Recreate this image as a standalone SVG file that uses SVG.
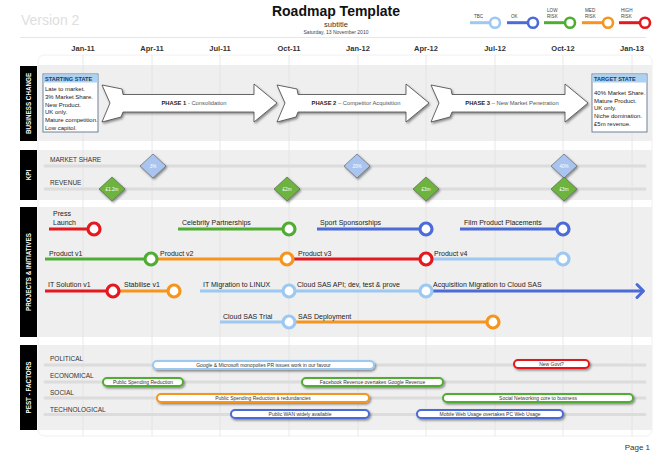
<svg xmlns="http://www.w3.org/2000/svg" width="662" height="455" viewBox="0 0 662 455">
<defs>
<filter id="sh" x="-20%" y="-40%" width="150%" height="200%"><feDropShadow dx="1.2" dy="1.5" stdDeviation="0.9" flood-color="#000" flood-opacity="0.45"/></filter>
<style>
text{font-family:"Liberation Sans",Arial,sans-serif}
.band{fill:#efefef}
.lab{fill:#000}
.labt{fill:#fff;font-weight:bold;font-size:6.3px;text-anchor:middle}
.mon{font-size:7.5px;font-weight:bold;fill:#333;text-anchor:middle}
.grid{stroke:#e2e2e2;stroke-width:0.8}
.trk{stroke:#dcdcdc;stroke-width:3;stroke-linecap:round}
.rowlab{font-size:6.5px;fill:#333}
.it{font-size:7px;fill:#222}
.ln{stroke-width:3;fill:none}
.ms{fill:#fff;stroke-width:3.2}
.lg{fill:#fff;stroke-width:2.6}
.lgt{font-size:4.6px;fill:#444}
.red{stroke:#e3191f}
.grn{stroke:#4fad33}
.blu{stroke:#4a6bd8}
.lbl{stroke:#9cc8f2}
.org{stroke:#f7941d}
.arrow{fill:#fff;stroke:#444;stroke-width:0.8;filter:url(#sh)}
.pt{font-size:5.8px;fill:#555;text-anchor:middle}
.pt tspan.b{font-weight:bold;fill:#222}
.box{fill:#fff;stroke:#5d7690;stroke-width:0.9}
.boxh{fill:#a9d2f3}
.bt{font-size:6px;fill:#222}
.bh{font-size:5.6px;font-weight:bold;fill:#1c3a5e}
.dia{stroke:#555;stroke-width:0.6;filter:url(#sh)}
.dt{font-size:4.6px;fill:#fff;text-anchor:middle}
.bar{fill:#fff;stroke-width:2;filter:url(#sh)}
.bart{font-size:5px;fill:#333;text-anchor:middle}
</style>
</defs>
<rect width="662" height="455" fill="#fff"/>

<g id="header">
<text x="21" y="25" font-size="14" fill="#dedede">Version 2</text>
<text x="336" y="16" font-size="14" font-weight="bold" fill="#111" text-anchor="middle">Roadmap Template</text>
<text x="336" y="27" font-size="7.5" fill="#333" text-anchor="middle">subtitle</text>
<text x="336" y="34" font-size="5" fill="#444" text-anchor="middle">Saturday, 13 November 2010</text>
<line x1="20" y1="37.5" x2="646" y2="37.5" stroke="#e6e6e6" stroke-width="1"/>
</g>

<g id="legend">
<line x1="470" y1="22.7" x2="491" y2="22.7" class="ln lbl"/><circle cx="495" cy="22.7" r="5" class="lg lbl"/><text x="474" y="17.5" class="lgt">TBC</text>
<line x1="507" y1="22.7" x2="528" y2="22.7" class="ln blu"/><circle cx="533" cy="22.7" r="5" class="lg blu"/><text x="511" y="17.5" class="lgt">OK</text>
<line x1="544" y1="22.7" x2="565" y2="22.7" class="ln grn"/><circle cx="570" cy="22.7" r="5" class="lg grn"/><text x="547" y="12" class="lgt">LOW</text><text x="547" y="17.5" class="lgt">RISK</text>
<line x1="582" y1="22.7" x2="603" y2="22.7" class="ln org"/><circle cx="608" cy="22.7" r="5" class="lg org"/><text x="585" y="12" class="lgt">MED</text><text x="585" y="17.5" class="lgt">RISK</text>
<line x1="619" y1="22.7" x2="640" y2="22.7" class="ln red"/><circle cx="645" cy="22.7" r="5" class="lg red"/><text x="621" y="12" class="lgt">HIGH</text><text x="621" y="17.5" class="lgt">RISK</text>
</g>

<g id="timeline">
<text x="83" y="50.5" class="mon">Jan-11</text>
<text x="152" y="50.5" class="mon">Apr-11</text>
<text x="220" y="50.5" class="mon">Jul-11</text>
<text x="289" y="50.5" class="mon">Oct-11</text>
<text x="358" y="50.5" class="mon">Jan-12</text>
<text x="426" y="50.5" class="mon">Apr-12</text>
<text x="495" y="50.5" class="mon">Jul-12</text>
<text x="563" y="50.5" class="mon">Oct-12</text>
<text x="632" y="50.5" class="mon">Jan-13</text>
<rect x="38" y="55" width="614" height="381" rx="6" fill="#fff" stroke="#ececec" stroke-width="0.8"/>
</g>

<g id="bands">
<rect x="38" y="65" width="614" height="76" class="band"/>
<rect x="38" y="150" width="614" height="50" class="band"/>
<rect x="38" y="207" width="614" height="130" class="band"/>
<rect x="38" y="345" width="614" height="85" class="band"/>
</g>

<g id="grid">
<line x1="83" y1="55" x2="83" y2="436" class="grid"/>
<line x1="152" y1="55" x2="152" y2="436" class="grid"/>
<line x1="220" y1="55" x2="220" y2="436" class="grid"/>
<line x1="289" y1="55" x2="289" y2="436" class="grid"/>
<line x1="358" y1="55" x2="358" y2="436" class="grid"/>
<line x1="426" y1="55" x2="426" y2="436" class="grid"/>
<line x1="495" y1="55" x2="495" y2="436" class="grid"/>
<line x1="563" y1="55" x2="563" y2="436" class="grid"/>
<line x1="632" y1="55" x2="632" y2="436" class="grid"/>
</g>

<g id="section-labels">
<rect x="20" y="66" width="17" height="75" class="lab"/>
<text transform="translate(30.8 103.5) rotate(-90)" class="labt">BUSINESS CHANGE</text>
<rect x="20" y="150" width="17" height="50" class="lab"/>
<text transform="translate(30.8 175) rotate(-90)" class="labt">KPI</text>
<rect x="20" y="207" width="17" height="130" class="lab"/>
<text transform="translate(30.8 272) rotate(-90)" class="labt">PROJECTS &amp; INITIATIVES</text>
<rect x="20" y="345" width="17" height="85" class="lab"/>
<text transform="translate(30.8 387.5) rotate(-90)" class="labt">PEST - FACTORS</text>
</g>

<g id="starting-state">
<rect x="43" y="74" width="55" height="58" class="box"/>
<rect x="43.5" y="74.5" width="54" height="8" class="boxh"/>
<text x="45" y="80.8" class="bh">STARTING STATE</text>
<text x="45" y="91" class="bt">Late to market.</text>
<text x="45" y="98.8" class="bt">3% Market Share.</text>
<text x="45" y="106.6" class="bt">New Product.</text>
<text x="45" y="114.4" class="bt">UK only.</text>
<text x="45" y="122.2" class="bt">Mature competition.</text>
<text x="45" y="130" class="bt">Low capitol.</text>
</g>

<g id="target-state">
<rect x="592" y="74" width="55" height="58" class="box"/>
<rect x="592.5" y="74.5" width="54" height="8" class="boxh"/>
<text x="594" y="80.8" class="bh">TARGET STATE</text>
<text x="594" y="95" class="bt">40% Market Share.</text>
<text x="594" y="102.7" class="bt">Mature Product.</text>
<text x="594" y="110.4" class="bt">UK only.</text>
<text x="594" y="118.1" class="bt">Niche domination.</text>
<text x="594" y="125.8" class="bt">£5m revenue.</text>
</g>

<g id="phase1">
<polygon class="arrow" points="102,85 122,89 123,94.5 254,94.5 254,84 277,103 254,122 254,112 123,112 121,117 102,122 110,103"/>
<text x="194" y="105" class="pt"><tspan class="b">PHASE 1</tspan> - Consolidation</text>
</g>
<g id="phase2">
<polygon class="arrow" points="277,85 297,89 298,94.5 406,94.5 406,84 429,103 406,122 406,112 298,112 296,117 277,122 285,103"/>
<text x="356" y="105" class="pt"><tspan class="b">PHASE 2</tspan> – Competitor Acquisition</text>
</g>
<g id="phase3">
<polygon class="arrow" points="431,85 451,89 452,94.5 565,94.5 565,84 588,103 565,122 565,112 452,112 450,117 431,122 439,103"/>
<text x="512" y="105" class="pt"><tspan class="b">PHASE 3</tspan> – New Market Penetration</text>
</g>

<g id="kpi">
<line x1="45" y1="166" x2="645" y2="166" class="trk"/>
<line x1="45" y1="189" x2="645" y2="189" class="trk"/>
<text x="50" y="161.5" class="rowlab">MARKET SHARE</text>
<text x="50" y="185" class="rowlab">REVENUE</text>
<g id="ms-3"><polygon class="dia" fill="#a9c5ef" points="153,154 166,166 153,178 140,166"/><text x="153" y="167.6" class="dt">3%</text></g>
<g id="ms-20"><polygon class="dia" fill="#a9c5ef" points="357,154 370,166 357,178 344,166"/><text x="357" y="167.6" class="dt">20%</text></g>
<g id="ms-40"><polygon class="dia" fill="#a9c5ef" points="564,154 577,166 564,178 551,166"/><text x="564" y="167.6" class="dt">40%</text></g>
<g id="rev-1"><polygon class="dia" fill="#6cb33f" points="112,177 125,189 112,201 99,189"/><text x="112" y="190.6" class="dt">£1.2m</text></g>
<g id="rev-2"><polygon class="dia" fill="#6cb33f" points="287,177 300,189 287,201 274,189"/><text x="287" y="190.6" class="dt">£2m</text></g>
<g id="rev-3"><polygon class="dia" fill="#6cb33f" points="426,177 439,189 426,201 413,189"/><text x="426" y="190.6" class="dt">£3m</text></g>
<g id="rev-4"><polygon class="dia" fill="#6cb33f" points="564,177 577,189 564,201 551,189"/><text x="564" y="190.6" class="dt">£3m</text></g>
</g>

<g id="connectors">
<line x1="49" y1="229" x2="94" y2="229" class="ln red"/>
<line x1="178" y1="229" x2="289" y2="229" class="ln grn"/>
<line x1="317" y1="229" x2="426" y2="229" class="ln blu"/>
<line x1="460" y1="229" x2="563" y2="229" class="ln blu"/>
<line x1="45" y1="259" x2="151" y2="259" class="ln grn"/>
<line x1="151" y1="259" x2="287" y2="259" class="ln org"/>
<line x1="287" y1="259" x2="426" y2="259" class="ln red"/>
<line x1="426" y1="259" x2="563" y2="259" class="ln lbl"/>
<line x1="45" y1="291" x2="113" y2="291" class="ln red"/>
<line x1="113" y1="291" x2="174" y2="291" class="ln org"/>
<line x1="200" y1="291" x2="289" y2="291" class="ln lbl"/>
<line x1="289" y1="291" x2="426" y2="291" class="ln lbl"/>
<line x1="426" y1="291" x2="643" y2="291" class="ln blu"/>
<polyline points="637,284.5 643.5,291 637,297.5" class="ln blu" stroke-linecap="round" stroke-linejoin="round"/>
<line x1="220" y1="322" x2="289" y2="322" class="ln lbl"/>
<line x1="289" y1="322" x2="493" y2="322" class="ln org"/>
</g>

<g id="milestones">
<g id="m-press"><circle cx="94" cy="229" r="6" class="ms red"/></g>
<g id="m-celebrity"><circle cx="289" cy="229" r="6" class="ms grn"/></g>
<g id="m-sport"><circle cx="426" cy="229" r="6" class="ms blu"/></g>
<g id="m-film"><circle cx="563" cy="229" r="6" class="ms blu"/></g>
<g id="m-pv1"><circle cx="151" cy="259" r="6" class="ms grn"/></g>
<g id="m-pv2"><circle cx="287" cy="259" r="6" class="ms org"/></g>
<g id="m-pv3"><circle cx="426" cy="259" r="6" class="ms red"/></g>
<g id="m-pv4"><circle cx="563" cy="259" r="6" class="ms lbl"/></g>
<g id="m-itsol"><circle cx="113" cy="291" r="6" class="ms red"/></g>
<g id="m-stab"><circle cx="174" cy="291" r="6" class="ms org"/></g>
<g id="m-linux"><circle cx="289" cy="291" r="6" class="ms lbl"/></g>
<g id="m-api"><circle cx="426" cy="291" r="6" class="ms lbl"/></g>
<g id="m-trial"><circle cx="289" cy="322" r="6" class="ms lbl"/></g>
<g id="m-deploy"><circle cx="493" cy="322" r="6" class="ms org"/></g>
</g>

<g id="project-labels">
<text x="53" y="216.3" class="it">Press</text>
<text x="53" y="224.5" class="it">Launch</text>
<text x="182" y="224.5" class="it">Celebrity Partnerships</text>
<text x="320" y="224.5" class="it">Sport Sponsorships</text>
<text x="464" y="224.5" class="it">Film Product Placements</text>
<text x="49" y="255.5" class="it">Product v1</text>
<text x="160" y="255.5" class="it">Product v2</text>
<text x="298" y="255.5" class="it">Product v3</text>
<text x="434" y="255.5" class="it">Product v4</text>
<text x="48" y="286.5" class="it">IT Solution v1</text>
<text x="124" y="286.5" class="it">Stabilise v1</text>
<text x="203" y="286.5" class="it">IT Migration to LINUX</text>
<text x="297" y="286.5" class="it">Cloud SAS API; dev, test &amp; prove</text>
<text x="433" y="286.5" class="it">Acquisition Migration to Cloud SAS</text>
<text x="223" y="318.5" class="it">Cloud SAS Trial</text>
<text x="298" y="318.5" class="it">SAS Deployment</text>
</g>

<g id="pest">
<line x1="45" y1="365" x2="645" y2="365" class="trk"/>
<line x1="45" y1="382" x2="645" y2="382" class="trk"/>
<line x1="45" y1="398" x2="645" y2="398" class="trk"/>
<line x1="45" y1="414.5" x2="645" y2="414.5" class="trk"/>
<text x="50" y="360.5" class="rowlab">POLITICAL</text>
<text x="50" y="377.5" class="rowlab">ECONOMICAL</text>
<text x="50" y="394.5" class="rowlab">SOCIAL</text>
<text x="50" y="411.5" class="rowlab">TECHNOLOGICAL</text>
<g id="p-google"><rect x="153" y="361" width="221" height="8" rx="4" class="bar lbl"/><text x="263.5" y="366.8" class="bart">Google &amp; Microsoft monopolies PR issues work in our favour</text></g>
<g id="p-govt"><rect x="514" y="360" width="75" height="8" rx="4" class="bar red"/><text x="551.5" y="365.8" class="bart">New Govt?</text></g>
<g id="p-psr"><rect x="103" y="378" width="80" height="8" rx="4" class="bar grn"/><text x="143" y="383.8" class="bart">Public Spending Reduction</text></g>
<g id="p-facebook"><rect x="302" y="378" width="141" height="8" rx="4" class="bar grn"/><text x="372.5" y="383.8" class="bart">Facebook Revenue overtakes Google Revenue</text></g>
<g id="p-redund"><rect x="157" y="394" width="212" height="8" rx="4" class="bar org"/><text x="263" y="399.8" class="bart">Public Spending Reduction à redundancies</text></g>
<g id="p-social"><rect x="443" y="394" width="190" height="8" rx="4" class="bar grn"/><text x="538" y="399.8" class="bart">Social Networking core to business</text></g>
<g id="p-wan"><rect x="231" y="410" width="138" height="8" rx="4" class="bar blu"/><text x="300" y="415.8" class="bart">Public WAN widely available</text></g>
<g id="p-mobile"><rect x="417" y="410" width="146" height="8" rx="4" class="bar blu"/><text x="490" y="415.8" class="bart">Mobile Web Usage overtakes PC Web Usage</text></g>
</g>

<text x="650" y="450" font-size="8" fill="#333" text-anchor="end">Page 1</text>
</svg>
